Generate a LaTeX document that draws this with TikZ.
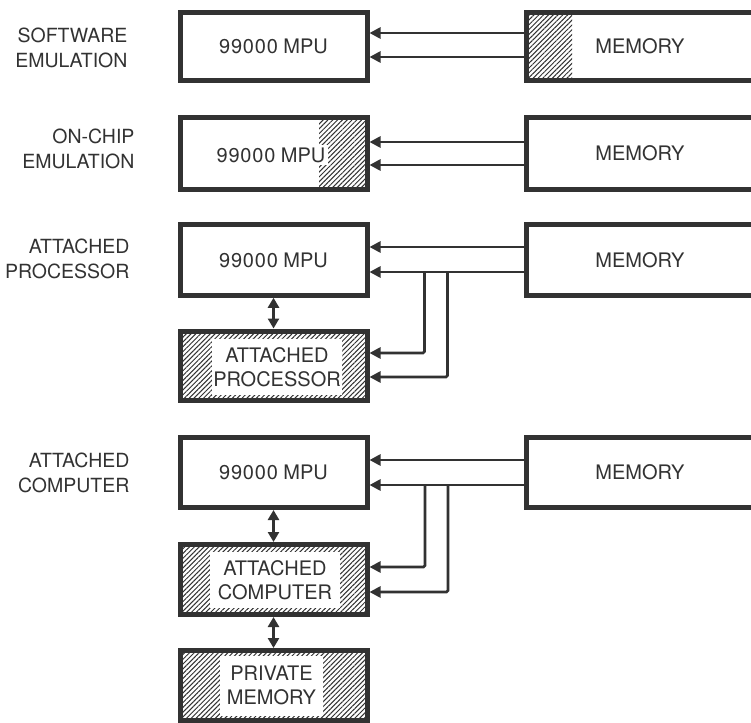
\documentclass[tikz,border=0pt]{standalone}
\usepackage{fontspec}
\setmainfont{TeX Gyre Heros}
\usetikzlibrary{arrows.meta,patterns.meta}
\definecolor{ink}{RGB}{50,50,50}
\newcommand{\mpulabel}{{\addfontfeature{LetterSpace=4}99000} MPU}
\begin{document}
\begin{tikzpicture}[x=1pt,y=-1pt,
  txt/.style={text=ink,font=\fontsize{20}{24.5}\selectfont,align=center},
  box/.style={txt,draw=ink,line width=5pt,inner sep=0pt,minimum width=187pt},
  membox/.style={box,minimum width=228pt},
  hatch/.style={pattern={Lines[angle=45,distance=3.4pt,line width=1pt]},pattern color=ink},
  panel/.style={txt,fill=white,inner sep=0pt},
  lbl/.style={txt,align=right,anchor=east,font=\fontsize{19.5}{25}\selectfont},
  bus/.style={draw=ink,line width=2.6pt,rounded corners=1.5pt,-{Triangle[length=11pt,width=11pt]}},
  link/.style={draw=ink,line width=3pt,{Triangle[length=10pt,width=11pt]}-{Triangle[length=10pt,width=11pt]}}
]
\useasboundingbox (0,0) rectangle (751,722);
\fill[white] (0,0) rectangle (751,722);
\clip (0,0) rectangle (751,722);

% left labels
\node[lbl] (l1) at (131,48) {SOFTWARE\\EMULATION};
\node[lbl] (l2) at (138,149) {ON-CHIP\\EMULATION};
\node[lbl] (l3) at (133,258.5) {ATTACHED\\PROCESSOR};
\node[lbl] (l4) at (133,472.5) {ATTACHED\\COMPUTER};

% row 1
\fill[hatch] (526,12.5) rectangle (572,80.5);
\node[box,minimum height=68pt] (mpu1) at (273.5,46.5) {\mpulabel};
\node[membox,minimum height=68pt] (mem1) at (640,46.5) {MEMORY};
\draw[bus] (mem1.west |- 0,33) -- (mpu1.east |- 0,33);
\draw[bus] (mem1.west |- 0,57) -- (mpu1.east |- 0,57);

% row 2
\fill[hatch] (319,117.5) rectangle (367,189.5);
\node[box,minimum height=72pt] (mpu2) at (273.5,153.5) {};
\node[panel,inner sep=2.5pt] (mpu2t) at (271,155) {\mpulabel};
\node[membox,minimum height=72pt] (mem2) at (640,153.5) {MEMORY};
\draw[bus] (mem2.west |- 0,142) -- (mpu2.east |- 0,142);
\draw[bus] (mem2.west |- 0,165) -- (mpu2.east |- 0,165);

% row 3
\node[box,minimum height=70.5pt] (mpu3) at (273.5,260) {\mpulabel};
\node[membox,minimum height=70.5pt] (mem3) at (640,260) {MEMORY};
\node[box,hatch,minimum height=69pt] (ap) at (273.5,365.5) {};
\node[panel,minimum width=130pt,minimum height=56pt] (apt) at (277,367) {ATTACHED\\PROCESSOR};
\draw[bus] (mem3.west |- 0,247) -- (mpu3.east |- 0,247);
\draw[bus] (mem3.west |- 0,272) -- (mpu3.east |- 0,272);
\draw[bus] (424.5,272) |- (ap.east |- 0,353);
\draw[bus] (447.5,272) |- (ap.east |- 0,377);
\draw[link] (mpu3.south) -- (ap.north);

% row 4
\node[box,minimum height=70pt] (mpu4) at (273.5,472.5) {\mpulabel};
\node[membox,minimum height=70pt] (mem4) at (640,472.5) {MEMORY};
\node[box,hatch,minimum height=70pt] (ac) at (273.5,579.5) {};
\node[panel,minimum width=130pt,minimum height=56pt] (act) at (275,580) {ATTACHED\\COMPUTER};
\node[box,hatch,minimum height=70pt] (pm) at (273.5,685.5) {};
\node[panel,minimum width=103pt,minimum height=60pt] (pmt) at (271.5,685.5) {PRIVATE\\MEMORY};
\draw[bus] (mem4.west |- 0,460) -- (mpu4.east |- 0,460);
\draw[bus] (mem4.west |- 0,485) -- (mpu4.east |- 0,485);
\draw[bus] (425,485) |- (ac.east |- 0,567);
\draw[bus] (448,485) |- (ac.east |- 0,592);
\draw[link] (mpu4.south) -- (ac.north);
\draw[link] (ac.south) -- (pm.north);
\end{tikzpicture}
\end{document}
